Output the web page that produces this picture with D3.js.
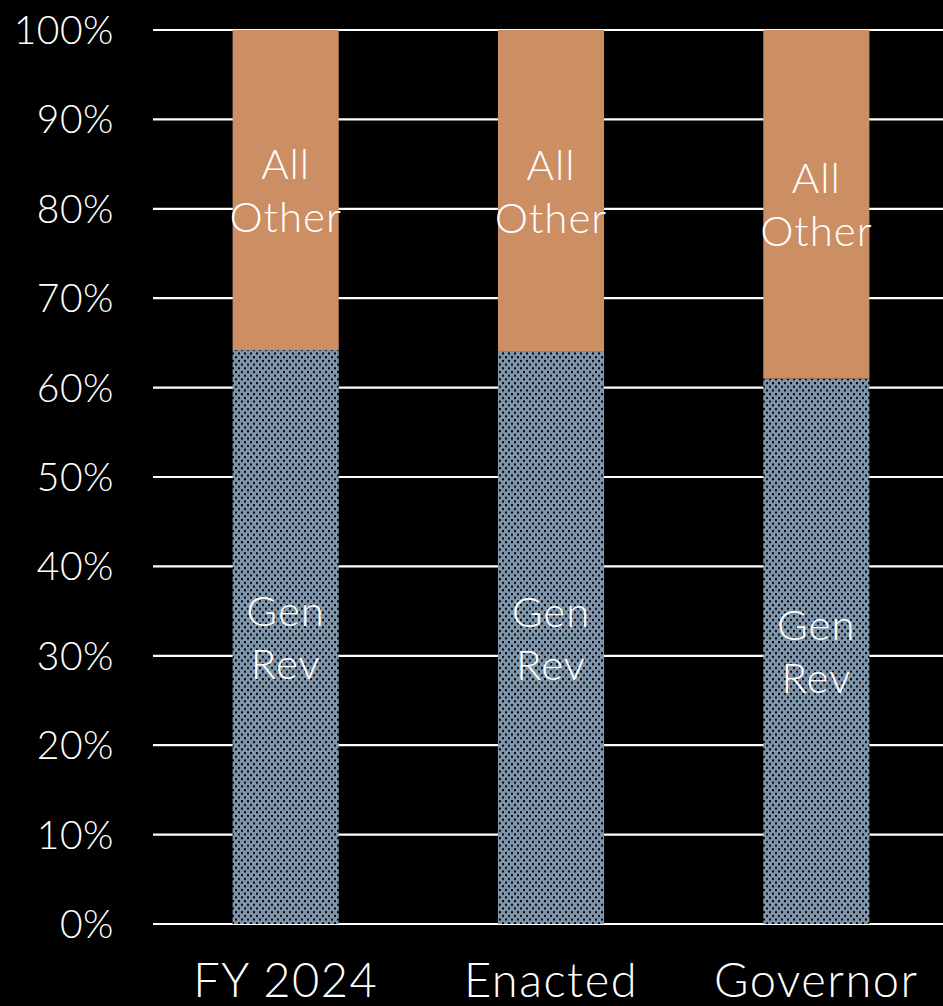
<!DOCTYPE html>
<html>
<head>
<meta charset="utf-8">
<script src="https://cdn.jsdelivr.net/npm/d3@7"></script>
<style>
  html, body { margin: 0; padding: 0; background: #000; overflow: hidden; }
  text { font-family: "Lato", "DejaVu Sans", sans-serif; font-weight: 300; fill: #fff; }
</style>
</head>
<body>
<script>
var categories = ["FY 2024", "Enacted", "Governor"];
var genRev = [64.2, 64.0, 61.0];
var allOther = [35.8, 36.0, 39.0];
var seriesNames = [["Gen", "Rev"], ["All", "Other"]];
var yTicks = [0, 10, 20, 30, 40, 50, 60, 70, 80, 90, 100];

var width = 943, height = 1006;
var margin = { top: 30, right: -6, bottom: 82, left: 153 };

var svg = d3.select("body")
    .append("svg")
    .attr("width", width)
    .attr("height", height);

// dotted fill for the Gen Rev bars
var defs = svg.append("defs");
var pat = defs.append("pattern")
    .attr("id", "dots")
    .attr("patternUnits", "userSpaceOnUse")
    .attr("width", 6)
    .attr("height", 7.4);
pat.append("rect").attr("width", 6).attr("height", 7.4).attr("fill", "#7f95ab");
pat.append("rect").attr("x", 1).attr("y", 1).attr("width", 2).attr("height", 2).attr("fill", "#000");
pat.append("rect").attr("x", 4).attr("y", 4.7).attr("width", 2).attr("height", 2).attr("fill", "#000");

var x = d3.scaleBand()
    .domain(categories)
    .range([margin.left, width - margin.right])
    .paddingInner(0.6)
    .paddingOuter(0.3);

var y = d3.scaleLinear()
    .domain([0, 100])
    .range([height - margin.bottom, margin.top]);

var y0 = y(0);

// gridlines
svg.append("g")
    .selectAll("line")
    .data(yTicks)
    .enter()
    .append("line")
    .attr("x1", margin.left)
    .attr("x2", width)
    .attr("y1", d => y(d))
    .attr("y2", d => y(d))
    .attr("stroke", "#fff")
    .attr("stroke-width", 2.2);

// y tick labels
svg.append("g")
    .selectAll("text")
    .data(yTicks)
    .enter()
    .append("text")
    .text(d => d + "%")
    .attr("x", 114)
    .attr("y", d => y(d))
    .attr("dy", "0.36em")
    .attr("text-anchor", "end")
    .style("font-size", "39px")
    .style("letter-spacing", "0.5px");

var rows = categories.map((c, i) => ({ cat: c, gen: genRev[i], other: allOther[i] }));

// Gen Rev
svg.append("g")
    .selectAll("rect")
    .data(rows)
    .enter()
    .append("rect")
    .attr("x", d => x(d.cat))
    .attr("width", x.bandwidth())
    .attr("y", d => y(d.gen))
    .attr("height", d => y0 - y(d.gen))
    .attr("fill", "url(#dots)");

// All Other
svg.append("g")
    .selectAll("rect")
    .data(rows)
    .enter()
    .append("rect")
    .attr("x", d => x(d.cat))
    .attr("width", x.bandwidth())
    .attr("y", d => y(d.gen + d.other))
    .attr("height", d => y(d.gen) - y(d.gen + d.other))
    .attr("fill", "#cc8e63");

// segment labels
function segLabel(d, lines, lo, hi) {
    var cy = (y(lo) + y(hi)) / 2;
    var t = svg.append("text")
        .attr("text-anchor", "middle")
        .style("font-size", "42px")
        .style("letter-spacing", "1px");
    lines.forEach((s, k) => {
        t.append("tspan")
            .attr("x", x(d.cat) + x.bandwidth() / 2)
            .attr("y", cy + (k - 0.5) * 53)
            .attr("dy", "0.36em")
            .text(s);
    });
}
rows.forEach(d => {
    segLabel(d, seriesNames[0], 0, d.gen);
    segLabel(d, seriesNames[1], d.gen, d.gen + d.other);
});

// x labels
svg.append("g")
    .selectAll("text")
    .data(categories)
    .enter()
    .append("text")
    .text(d => d)
    .attr("x", d => x(d) + x.bandwidth() / 2)
    .attr("y", 997)
    .attr("text-anchor", "middle")
    .style("font-size", "47px")
    .style("letter-spacing", "1.5px");
</script>
</body>
</html>
